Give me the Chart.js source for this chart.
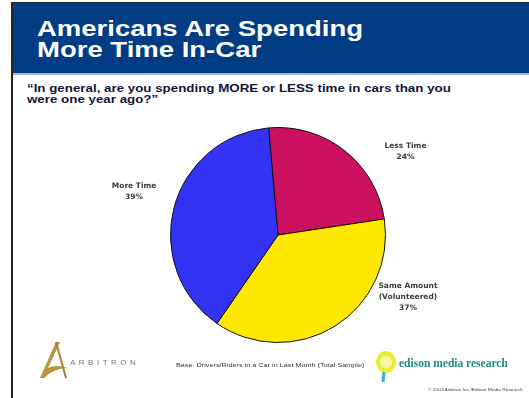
<!DOCTYPE html>
<html><head><meta charset="utf-8">
<script src="https://cdn.jsdelivr.net/npm/chart.js@4/dist/chart.umd.min.js"></script>
<style>
html,body{margin:0;padding:0;background:#fff;width:529px;height:398px;overflow:hidden;font-family:"Liberation Sans",Arial,sans-serif}
#frame{position:absolute;left:11px;top:2px;width:530px;height:400px;border-left:2px solid #222;border-top:1px solid #222}
#hdr{position:absolute;left:13px;top:3px;width:516px;height:70px;background:#023c82;border-bottom:2px solid #9fb6d6}
#t1{position:absolute;left:37px;top:18px;color:#fff;font-weight:bold;font-size:22px;line-height:21px;transform:scaleX(1.25);transform-origin:0 0;white-space:nowrap}
#q{position:absolute;left:27px;top:83px;color:#15153a;font-weight:bold;font-size:10.5px;line-height:11px;transform:scaleX(1.27);transform-origin:0 0;white-space:nowrap}
#wrap{position:absolute;left:0;top:110px;width:529px;height:260px}
#arb{position:absolute;left:70px;top:358px;color:#777;font-size:8px;letter-spacing:3.5px}
#base{position:absolute;left:176px;top:362px;color:#333;font-size:5.5px;transform:scaleX(1.32);transform-origin:0 0;white-space:nowrap}
#ed{position:absolute;left:399px;top:357px;color:#1e8a7e;font-weight:bold;font-family:"Liberation Serif",serif;font-size:11.5px}
#copy{position:absolute;left:428px;top:387px;color:#444;font-size:4px;transform:scaleX(1.2);transform-origin:0 0;white-space:nowrap}
</style></head><body>
<div id="frame"></div>
<div id="hdr"></div>
<div id="t1">Americans Are Spending<br>More Time In-Car</div>
<div id="q">“In general, are you spending MORE or LESS time in cars than you<br>were one year ago?”</div>
<div id="wrap"><canvas id="c"></canvas></div>
<svg style="position:absolute;left:36px;top:338px" width="36" height="45"><path d="M4 40 L20 4 L24 4 L12 30 Q20 26 32 30 Q18 30 8 40 Z" fill="#b8953a"/><path d="M20 4 L30 40" stroke="#a5823a" stroke-width="2"/></svg>
<div id="arb">ARBITRON</div>
<div id="base">Base: Drivers/Riders in a Car in Last Month (Total Sample)</div>
<svg style="position:absolute;left:374px;top:350px" width="26" height="34"><ellipse cx="12" cy="12" rx="10" ry="11" fill="#e8ee33"/><circle cx="12" cy="12" r="6" fill="#f8f8a0"/><path d="M10 22 L9 32" stroke="#3aa8d8" stroke-width="3"/></svg>
<div id="ed">edison media research</div>
<div id="copy">© 2003 Arbitron Inc./Edison Media Research</div>
<script>
const categories = ["Less Time", "Same Amount", "More Time"];
const labelLines = [["Less Time","24%"],["Same Amount","(Volunteered)","37%"],["More Time","39%"]];
const values = [24, 37, 39];
const colors = ["#cc1060", "#ffe800", "#3333f5"];
const labelOffsets = [[61,1],[73,-29],[-40,-16]];

const outLabels = {
  id:'outLabels',
  afterDatasetsDraw(chart){
    const ctx = chart.ctx;
    const meta = chart.getDatasetMeta(0);
    ctx.save();
    ctx.font = 'bold 7.5px "DejaVu Sans", sans-serif';
    ctx.fillStyle = '#3a3a3a';
    ctx.textAlign = 'center';
    ctx.textBaseline = 'middle';
    meta.data.forEach((arc,i)=>{
      const p = arc.getProps(['x','y','startAngle','endAngle','outerRadius'],true);
      const mid = (p.startAngle+p.endAngle)/2;
      const x = p.x + Math.cos(mid)*p.outerRadius + labelOffsets[i][0];
      const y = p.y + Math.sin(mid)*p.outerRadius + labelOffsets[i][1];
      const lines = labelLines[i];
      const lh = 11;
      lines.forEach((l,k)=>{
        ctx.fillText(l, x, y + (k-(lines.length-1)/2)*lh);
      });
    });
    ctx.restore();
  }
};

new Chart(document.getElementById('c'),{
  type:'pie',
  data:{labels:categories,datasets:[{data:values,backgroundColor:colors,borderColor:'#111',borderWidth:1}]},
  options:{
    responsive:true,maintainAspectRatio:false,animation:false,
    rotation:-5,
    layout:{padding:{left:27,right:0,top:17,bottom:27}},
    plugins:{legend:{display:false},tooltip:{enabled:false}}
  },
  plugins:[outLabels]
});
</script>
</body></html>
